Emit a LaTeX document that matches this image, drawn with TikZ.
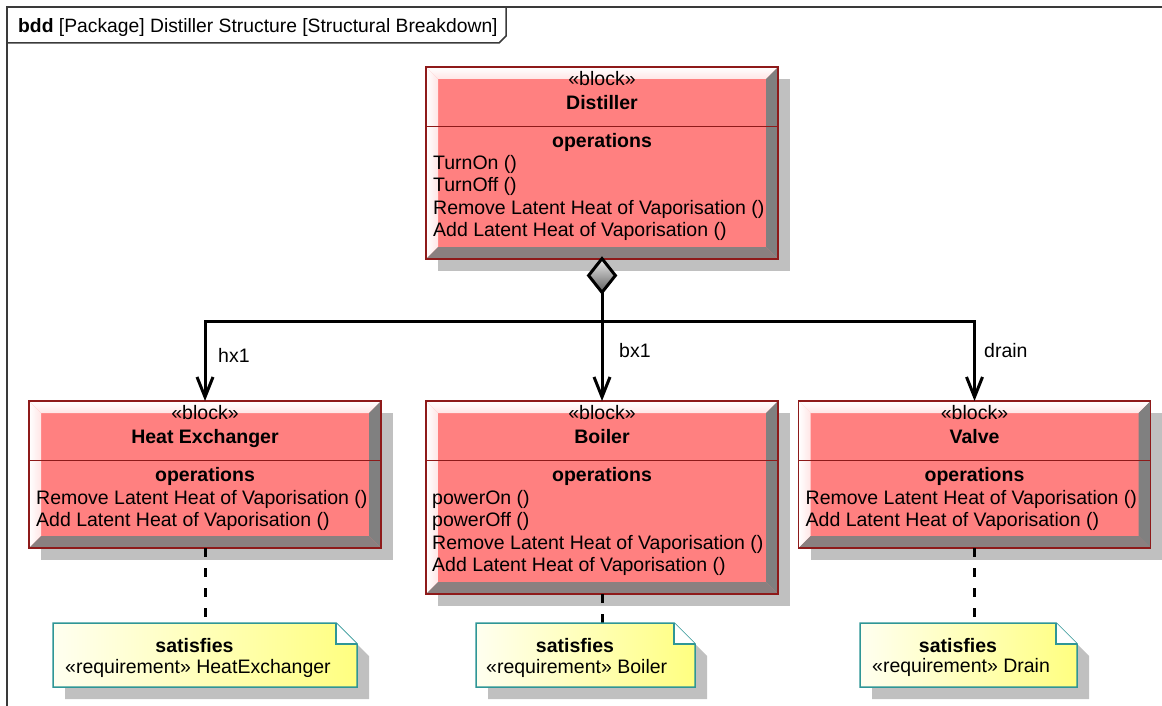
\documentclass[tikz,border=0pt]{standalone}
\usepackage{fontspec}
\setmainfont{Liberation Sans}
\usetikzlibrary{arrows.meta,shapes.geometric,shadows}

\definecolor{blockfill}{HTML}{FF8080}
\definecolor{blockline}{HTML}{8E1A1A}
\definecolor{shadowgray}{HTML}{C0C0C0}
\definecolor{bevelright}{HTML}{808080}
\definecolor{bevelbottom}{HTML}{8A8080}
\definecolor{bevellight}{HTML}{FFE6E6}
\definecolor{noteline}{HTML}{2F9696}
\definecolor{notelight}{HTML}{FFFFF0}
\definecolor{noteyellow}{HTML}{FFFF80}
\definecolor{framegray}{HTML}{3A3A3A}

\begin{document}
\begin{tikzpicture}[x=1pt,y=-1pt,
    every node/.style={inner sep=0pt,font=\fontsize{19.5}{22.5}\selectfont,text height=1.06em,text depth=0pt},
    block/.style={draw=blockline,line width=1.5pt,fill=blockfill,outer sep=0pt,minimum width=352pt,
      drop shadow={shadow xshift=12pt,shadow yshift=-12pt,fill=shadowgray,opacity=1}},
    blockname/.style={font=\fontsize{19.5}{22.5}\selectfont\bfseries},
    optitle/.style={font=\fontsize{19.5}{22.5}\selectfont\bfseries},
    opline/.style={anchor=west},
    notebox/.style={outer sep=0pt,minimum height=64pt},
    link/.style={line width=3pt,-{Straight Barb[length=20pt,width=16pt]}},
    trace/.style={line width=3pt,dash pattern=on 9pt off 11pt}]
    \useasboundingbox (0,0) rectangle (1162,706);

    \draw[framegray,line width=2pt] (1180,7) -- (7,7) -- (7,720);
    \draw[framegray,line width=1.5pt] (7,43) -- (499,43) -- (506,36) -- (506,7);
    \node[anchor=west,font=\fontsize{19.3}{22.5}\selectfont] (title) at (18,27) {\textbf{bdd} [Package] Distiller Structure [Structural Breakdown]};

    \node[block,minimum height=192pt] (dist) at (602,163) {};
    \node[block,minimum height=147pt] (hx) at (205,474.5) {};
    \node[block,minimum height=193pt] (boil) at (602,497.5) {};
    \node[block,minimum height=147pt] (valve) at (974.5,474.5) {};

    \foreach \b in {dist,hx,boil,valve}{
        \shade[top color=white,bottom color=bevellight] (\b.north west) -- (\b.north east) -- ([shift={(-12pt,-12pt)}]\b.north east) -- ([shift={(12pt,-12pt)}]\b.north west) -- cycle;
        \shade[left color=white,right color=bevellight] (\b.north west) -- ([shift={(12pt,-12pt)}]\b.north west) -- ([shift={(12pt,12pt)}]\b.south west) -- (\b.south west) -- cycle;
        \fill[bevelright] (\b.north east) -- ([shift={(-12pt,-12pt)}]\b.north east) -- ([shift={(-12pt,12pt)}]\b.south east) -- (\b.south east) -- cycle;
        \fill[bevelbottom] (\b.south west) -- ([shift={(12pt,12pt)}]\b.south west) -- ([shift={(-12pt,12pt)}]\b.south east) -- (\b.south east) -- cycle;
        \draw[blockline,line width=1.5pt] (\b.north west) rectangle (\b.south east);
        \draw[blockline,line width=1.5pt] ([yshift=-59.5pt]\b.north west) -- ([yshift=-59.5pt]\b.north east);
        \node (\b stereo) at ([yshift=-13.5pt]\b.north) {«block»};
        \node[optitle] (\b optitle) at ([yshift=-75pt]\b.north) {operations};
    }

    \node[blockname] (distname) at ([yshift=-37pt]dist.north) {Distiller};
    \node[blockname] (hxname) at ([yshift=-37.5pt]hx.north) {Heat Exchanger};
    \node[blockname] (boilname) at ([yshift=-37.5pt]boil.north) {Boiler};
    \node[blockname] (valvename) at ([yshift=-37.5pt]valve.north) {Valve};

    \foreach \t [count=\i] in {TurnOn (),TurnOff (),Remove Latent Heat of Vaporisation (),Add Latent Heat of Vaporisation ()}
        \node[opline] (distop\i) at ([shift={(7pt,{-97pt-22.4pt*(\i-1)})}]dist.north west) {\t};
    \foreach \t [count=\i] in {Remove Latent Heat of Vaporisation (),Add Latent Heat of Vaporisation ()}{
        \node[opline] (hxop\i) at ([shift={(7pt,{-98pt-22.4pt*(\i-1)})}]hx.north west) {\t};
        \node[opline] (valveop\i) at ([shift={(7pt,{-98pt-22.4pt*(\i-1)})}]valve.north west) {\t};
    }
    \foreach \t [count=\i] in {powerOn (),powerOff (),Remove Latent Heat of Vaporisation (),Add Latent Heat of Vaporisation ()}
        \node[opline] (boilop\i) at ([shift={(6pt,{-98pt-22.4pt*(\i-1)})}]boil.north west) {\t};

    \node[notebox,minimum width=304pt] (hxnote) at (205,655) {};
    \node[notebox,minimum width=219pt] (boilnote) at (585.5,655) {};
    \node[notebox,minimum width=217pt] (valvenote) at (968.5,655) {};

    \coordinate (bus) at (602,321);
    \draw[line width=3pt] (dist.south) -- (bus);
    \draw[link] (bus) -| (hx.north);
    \draw[link] (bus) -- (boil.north);
    \draw[link] (bus) -| (valve.north);
    \node[diamond,draw,line width=3pt,top color=gray!15,bottom color=gray!75!black,minimum width=28pt,minimum height=35pt] (dia) at (602,275.5) {};
    \node[anchor=west] (hxlabel) at (218,357) {hx1};
    \node[anchor=west] (boillabel) at (619,352) {bx1};
    \node[anchor=west] (valvelabel) at (984,352) {drain};

    \draw[trace] (hx.south) -- (hxnote.north -| hx.south);
    \draw[trace] (boil.south) -- (boilnote.north -| boil.south);
    \draw[trace] (valve.south) -- (valvenote.north -| valve.south);

    \foreach \n in {hxnote,boilnote,valvenote}{
        \fill[shadowgray] ([shift={(12pt,-12pt)}]\n.north west) -- ([shift={(-9pt,-12pt)}]\n.north east) -- ([shift={(12pt,-33pt)}]\n.north east) -- ([shift={(12pt,-12pt)}]\n.south east) -- ([shift={(12pt,-12pt)}]\n.south west) -- cycle;
        \filldraw[draw=noteline,line width=1.5pt,left color=notelight,right color=noteyellow] (\n.north west) -- ([xshift=-21pt]\n.north east) -- ([yshift=-21pt]\n.north east) -- (\n.south east) -- (\n.south west) -- cycle;
        \filldraw[draw=noteline,line width=1.5pt,fill=white] ([xshift=-21pt]\n.north east) -- ([shift={(-21pt,-21pt)}]\n.north east) -- ([yshift=-21pt]\n.north east);
        \node[optitle] (\n sat) at ([shift={(-10.5pt,-24pt)}]\n.north) {satisfies};
    }
    \node[opline] (hxreq) at ([shift={(12pt,-45pt)}]hxnote.north west) {«requirement» HeatExchanger};
    \node[opline] (boilreq) at ([shift={(10pt,-45pt)}]boilnote.north west) {«requirement» Boiler};
    \node[opline] (valvereq) at ([shift={(12pt,-44pt)}]valvenote.north west) {«requirement» Drain};
\end{tikzpicture}
\end{document}
